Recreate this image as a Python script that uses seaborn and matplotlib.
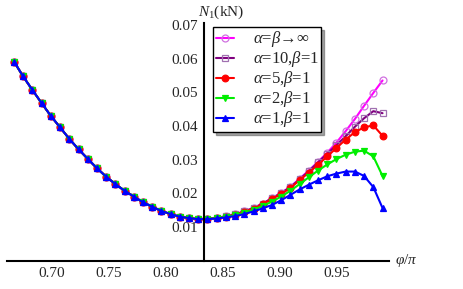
import seaborn as sns
import matplotlib.pyplot as plt
import pandas as pd
import numpy as np
from matplotlib.ticker import MultipleLocator, FuncFormatter

# phi/pi sample positions
phi = [0.6667, 0.6747, 0.6828, 0.6909, 0.6990, 0.7071, 0.7152, 0.7233, 0.7313,
       0.7394, 0.7475, 0.7556, 0.7637, 0.7718, 0.7798, 0.7879, 0.7960, 0.8041,
       0.8122, 0.8203, 0.8283, 0.8364, 0.8445, 0.8526, 0.8607, 0.8688, 0.8768,
       0.8849, 0.8930, 0.9011, 0.9092, 0.9173, 0.9253, 0.9334, 0.9415, 0.9496,
       0.9577, 0.9658, 0.9738, 0.9819, 0.9900]

# left branch is common to all cases
left = [0.0591, 0.0547, 0.0507, 0.0468, 0.0430, 0.0396, 0.0362, 0.0331, 0.0303,
        0.0275, 0.0250, 0.0228, 0.0208, 0.0191, 0.0174, 0.0161, 0.0148, 0.0139,
        0.0131, 0.0127, 0.0124]

right_inf = [0.0125, 0.0128, 0.0132, 0.0138, 0.0147, 0.0157, 0.0170, 0.0186, 0.0202, 0.0220,
             0.0244, 0.0268, 0.0294, 0.0321, 0.0351, 0.0385, 0.0421, 0.0460, 0.0498, 0.0535]
right_a10 = [0.0125, 0.0128, 0.0132, 0.0138, 0.0147, 0.0157, 0.0170, 0.0186, 0.0201, 0.0219,
             0.0242, 0.0266, 0.0292, 0.0318, 0.0343, 0.0370, 0.0398, 0.0423, 0.0444, 0.0438]
right_a5 = [0.0125, 0.0127, 0.0131, 0.0137, 0.0146, 0.0155, 0.0168, 0.0184, 0.0199, 0.0216,
            0.0240, 0.0262, 0.0285, 0.0310, 0.0335, 0.0360, 0.0382, 0.0396, 0.0402, 0.0371]
right_a2 = [0.0125, 0.0127, 0.0131, 0.0136, 0.0143, 0.0152, 0.0163, 0.0176, 0.0191, 0.0208,
            0.0228, 0.0248, 0.0268, 0.0286, 0.0302, 0.0315, 0.0324, 0.0327, 0.0310, 0.0252]
right_a1 = [0.0124, 0.0126, 0.0129, 0.0133, 0.0139, 0.0147, 0.0156, 0.0166, 0.0180, 0.0196,
            0.0212, 0.0226, 0.0239, 0.0251, 0.0259, 0.0265, 0.0265, 0.0252, 0.0219, 0.0157]

labels = [r'$\alpha$=$\beta$→∞', r'$\alpha$=10,$\beta$=1', r'$\alpha$=5,$\beta$=1',
          r'$\alpha$=2,$\beta$=1', r'$\alpha$=1,$\beta$=1']
rights = [right_inf, right_a10, right_a5, right_a2, right_a1]

styles = [
    dict(color='#ff00ff', marker='o', mfc='none', mec='#d070e0', ms=5),
    dict(color='#800080', marker='s', mfc='none', mec='#a070b0', ms=4.5),
    dict(color='#ff0000', marker='o', mfc='#ff0000', mec='#ff0000', ms=4.8),
    dict(color='#00ee00', marker='v', mfc='#00ee00', mec='#00ee00', ms=4.8),
    dict(color='#0000ff', marker='^', mfc='#0000ff', mec='#0000ff', ms=4.8),
]

sns.set_style('white')
plt.rcParams['font.family'] = ['Liberation Serif', 'DejaVu Serif']
plt.rcParams['mathtext.fontset'] = 'custom'
plt.rcParams['mathtext.rm'] = 'Liberation Serif'
plt.rcParams['mathtext.it'] = 'Liberation Serif:italic'

fig = plt.figure(figsize=(4.63, 2.89), dpi=100)
ax = fig.add_axes([0.015, 0.097, 0.825, 0.823])

for lab, r, st in zip(labels, rights, styles):
    sns.lineplot(x=phi, y=left + r, ax=ax, label=lab, sort=False, lw=1.5,
                 mew=0.9, **st)

ax.set_xlim(0.6605, 0.9956)
ax.set_ylim(0, 0.0705)

for s in ['top', 'right']:
    ax.spines[s].set_visible(False)
ax.spines['left'].set_position(('data', 5 / 6))
ax.spines['bottom'].set_position(('data', 0))
for s in ['left', 'bottom']:
    ax.spines[s].set_linewidth(1.5)
    ax.spines[s].set_color('black')

ax.xaxis.set_major_locator(MultipleLocator(0.05))
ax.xaxis.set_minor_locator(MultipleLocator(0.01))
ax.yaxis.set_major_locator(MultipleLocator(0.01))
ax.yaxis.set_minor_locator(MultipleLocator(0.002))
ax.xaxis.set_major_formatter(FuncFormatter(lambda v, p: f'{v:.2f}'))
ax.yaxis.set_major_formatter(FuncFormatter(lambda v, p: '' if v < 0.005 else f'{v:.2f}'))
ax.tick_params(which='major', direction='in', length=5, width=1.2, labelsize=11, pad=4)
ax.tick_params(which='minor', direction='in', length=2.5, width=1)
ax.set_xlabel('')
ax.set_ylabel('')

fig.text(0.478, 0.958, r'$N_1$(kN)', ha='center', va='center', fontsize=11)
fig.text(0.853, 0.097, r'$\varphi/\pi$', ha='left', va='center', fontsize=11)

leg = ax.legend(loc='upper left', bbox_to_anchor=(0.461, 0.907),
                bbox_transform=fig.transFigure, fontsize=12, frameon=True,
                fancybox=False, shadow=True, edgecolor='black', framealpha=1,
                handlelength=1.1, handletextpad=1.1, labelspacing=0.0,
                borderpad=0.15, borderaxespad=0)
leg.get_frame().set_linewidth(1.0)

fig.savefig('out.png', dpi=100)
